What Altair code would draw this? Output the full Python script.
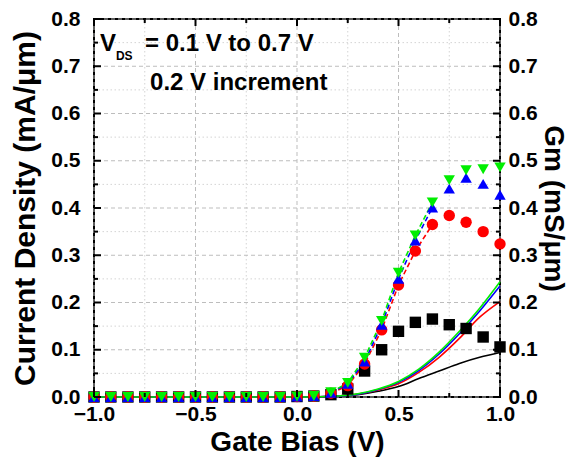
import altair as alt
import pandas as pd

# ---- data ----
vg_line = [-1.0, 0.0, 0.1, 0.2, 0.3, 0.4, 0.5, 0.6, 0.7, 0.8, 0.9, 1.0]
jd_black = [0.0, 0.0, 0.0005, 0.002, 0.005, 0.012, 0.022, 0.039, 0.055, 0.071, 0.084, 0.094]
jd_red   = [0.0, 0.0, 0.0005, 0.002, 0.006, 0.015, 0.028, 0.052, 0.084, 0.124, 0.169, 0.202]
jd_blue  = [0.0, 0.0, 0.0005, 0.002, 0.006, 0.016, 0.031, 0.056, 0.091, 0.134, 0.182, 0.235]
jd_green = [0.0, 0.0, 0.0005, 0.002, 0.007, 0.017, 0.033, 0.059, 0.095, 0.139, 0.188, 0.244]

vg_gm = [-1.0, -0.917, -0.833, -0.75, -0.667, -0.583, -0.5, -0.417, -0.333, -0.25, -0.167, -0.083,
         0.0, 0.083, 0.167, 0.25, 0.333, 0.417, 0.5, 0.583, 0.667, 0.75, 0.833, 0.917, 1.0]
gm_black = [0, 0, 0, 0, 0, 0, 0, 0, 0, 0, 0, 0,
            0.001, 0.002, 0.005, 0.017, 0.055, 0.100, 0.139, 0.158, 0.165, 0.153, 0.145, 0.127, 0.106]
gm_red   = [0, 0, 0, 0, 0, 0, 0, 0, 0, 0, 0, 0,
            0.001, 0.002, 0.008, 0.024, 0.070, 0.142, 0.237, 0.309, 0.365, 0.384, 0.370, 0.350, 0.324]
gm_blue  = [0, 0, 0, 0, 0, 0, 0, 0, 0, 0, 0, 0,
            0.001, 0.002, 0.009, 0.028, 0.075, 0.153, 0.250, 0.331, 0.401, 0.441, 0.464, 0.451, 0.428]
gm_green = [0, 0, 0, 0, 0, 0, 0, 0, 0, 0, 0, 0,
            0.001, 0.002, 0.010, 0.030, 0.083, 0.161, 0.263, 0.342, 0.412, 0.459, 0.480, 0.482, 0.486]

series = ["0.1 V", "0.3 V", "0.5 V", "0.7 V"]
colors = ["#000000", "#ff0000", "#0000ff", "#00ee00"]
shapes = ["square", "circle", "triangle-up", "triangle-down"]

x_major = [-1.0, -0.5, 0.0, 0.5, 1.0]
x_minor = [-0.75, -0.25, 0.25, 0.75]
y_major = [0.0, 0.1, 0.2, 0.3, 0.4, 0.5, 0.6, 0.7, 0.8]
y_minor = [0.05, 0.15, 0.25, 0.35, 0.45, 0.55, 0.65, 0.75]

dash_from = 0.167
dash_to = 0.667

# ---- tables ----
lines_df = pd.concat([
    pd.DataFrame({"vg": vg_line, "j": vals, "s": s, "o": i})
    for i, (s, vals) in enumerate(zip(series, [jd_black, jd_red, jd_blue, jd_green]))
])
gm_df = pd.concat([
    pd.DataFrame({"vg": vg_gm, "g": vals, "s": s, "o": i})
    for i, (s, vals) in enumerate(zip(series, [gm_black, gm_red, gm_blue, gm_green]))
])
dash_df = gm_df[(gm_df["o"] > 0) & (gm_df["vg"] >= dash_from) & (gm_df["vg"] <= dash_to)]

FONT = "Liberation Sans"
W, H = 406, 378
xs = alt.Scale(domain=[-1.0, 1.0], nice=False, zero=False)
ys = alt.Scale(domain=[0.0, 0.8], nice=False, zero=False)
col_scale = alt.Scale(domain=series, range=colors)
shape_scale = alt.Scale(domain=series, range=shapes)

AX_STYLE = dict(grid=False, domain=False, ticks=False, format=".1f", labelFlush=False,
                labelFontSize=21, labelFont=FONT, labelFontWeight="bold", labelColor="black",
                titleFont=FONT, titleFontWeight="bold", titleColor="black")

def grid(vals, enc, color, dash, width):
    d = pd.DataFrame({"v": vals})
    ch = alt.X("v:Q", scale=xs, axis=None) if enc == "x" else alt.Y("v:Q", scale=ys, axis=None)
    return alt.Chart(d).mark_rule(color=color, strokeDash=dash, strokeWidth=width).encode(**{enc: ch})

grids = [
    grid(x_minor, "x", "#d4d4d4", [1.5, 2.5], 1),
    grid(y_minor, "y", "#d4d4d4", [1.5, 2.5], 1),
    grid(x_major, "x", "#bdbdbd", [4, 3], 1),
    grid(y_major, "y", "#bdbdbd", [4, 3], 1),
]

def xticks(vals, length):
    d = pd.DataFrame({"v": vals})
    bot = alt.Chart(d).mark_rule(color="black", strokeWidth=2).encode(
        x=alt.X("v:Q", scale=xs, axis=None), y=alt.value(H), y2=alt.value(H - length))
    top = alt.Chart(d).mark_rule(color="black", strokeWidth=2).encode(
        x=alt.X("v:Q", scale=xs, axis=None), y=alt.value(0), y2=alt.value(length))
    return [bot, top]

def yticks(vals, length):
    d = pd.DataFrame({"v": vals})
    lft = alt.Chart(d).mark_rule(color="black", strokeWidth=2).encode(
        y=alt.Y("v:Q", scale=ys, axis=None), x=alt.value(0), x2=alt.value(length))
    rgt = alt.Chart(d).mark_rule(color="black", strokeWidth=2).encode(
        y=alt.Y("v:Q", scale=ys, axis=None), x=alt.value(W), x2=alt.value(W - length))
    return [lft, rgt]

ticks = xticks(x_major, 7) + xticks(x_minor, 4) + yticks(y_major, 7) + yticks(y_minor, 4)

# axis-carrying invisible layers
axis_df = pd.DataFrame({"v": [0.0]})
x_axis = alt.Chart(axis_df).mark_point(opacity=0).encode(
    x=alt.X("v:Q", scale=xs, title="Gate Bias (V)",
            axis=alt.Axis(values=x_major, orient="bottom", labelPadding=6, titlePadding=4,
                          titleFontSize=28, **AX_STYLE)))
yl_axis = alt.Chart(axis_df).mark_point(opacity=0).encode(
    y=alt.Y("v:Q", scale=ys, title="Current Density (mA/\u03bcm)",
            axis=alt.Axis(values=y_major, orient="left", labelPadding=14, titlePadding=10,
                          titleFontSize=30, **AX_STYLE)))
yr_axis = alt.Chart(axis_df).mark_point(opacity=0).encode(
    y=alt.Y("v:Q", scale=ys, title="Gm (mS/\u03bcm)",
            axis=alt.Axis(values=y_major, orient="right", labelPadding=8, titlePadding=1,
                          titleFontSize=28, **AX_STYLE)))

lines = alt.Chart(lines_df).mark_line(strokeWidth=1.6, interpolate="monotone").encode(
    x=alt.X("vg:Q", scale=xs, axis=None),
    y=alt.Y("j:Q", scale=ys, axis=None),
    color=alt.Color("s:N", scale=col_scale, legend=None),
    detail="s:N",
    order="o:Q",
)

ann_df = pd.DataFrame({
    "x": [-0.970, -0.749, -0.724],
    "y": [0.733, 0.733, 0.649],
    "t": ["V", "= 0.1 V to 0.7 V", "0.2 V increment"],
})
sub_df = pd.DataFrame({"x": [-0.892], "y": [0.714], "t": ["DS"]})
ann = alt.Chart(ann_df).mark_text(align="left", baseline="alphabetic", font=FONT,
                                  fontWeight="bold", fontSize=24, color="black").encode(
    x=alt.X("x:Q", scale=xs, axis=None), y=alt.Y("y:Q", scale=ys, axis=None), text="t:N")
sub = alt.Chart(sub_df).mark_text(align="left", baseline="alphabetic", font=FONT,
                                  fontWeight="bold", fontSize=12, color="black").encode(
    x=alt.X("x:Q", scale=xs, axis=None), y=alt.Y("y:Q", scale=ys, axis=None), text="t:N")

dashed = alt.Chart(dash_df).mark_line(strokeWidth=1.6, strokeDash=[5, 3]).encode(
    x=alt.X("vg:Q", scale=xs, axis=None),
    y=alt.Y("g:Q", scale=ys, axis=None),
    color=alt.Color("s:N", scale=col_scale, legend=None),
    detail="s:N",
)
markers = alt.Chart(gm_df).mark_point(filled=True, size=130, opacity=1).encode(
    x=alt.X("vg:Q", scale=xs, axis=None),
    y=alt.Y("g:Q", scale=ys, axis=None),
    color=alt.Color("s:N", scale=col_scale, legend=None),
    shape=alt.Shape("s:N", scale=shape_scale, legend=None),
    order="o:Q",
)

chart = alt.layer(
    *grids, lines, dashed, markers, *ticks, ann, sub, x_axis, yl_axis, yr_axis
).resolve_scale(y="independent").resolve_axis(x="independent", y="independent").properties(
    width=W, height=H,
    autosize=alt.AutoSizeParams(type="none"),
    padding={"left": 86, "top": 11, "right": 70, "bottom": 61},
).configure(background="white").configure_view(stroke="black", strokeWidth=2)

chart.save("out.html", embed_options={"renderer": "svg", "actions": False})
